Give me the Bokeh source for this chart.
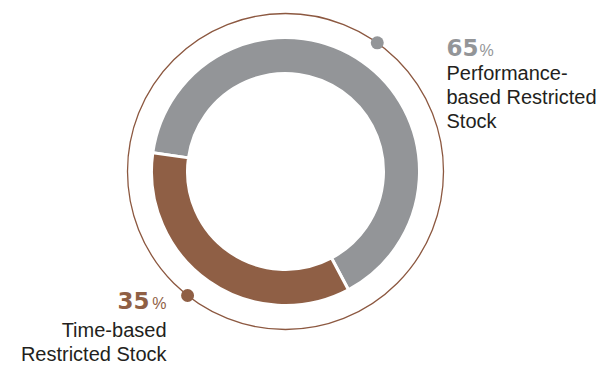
import numpy as np
from bokeh.plotting import figure
from bokeh.models import Range1d, ColumnDataSource
from bokeh.core.properties import value
from bokeh.embed import file_html
from bokeh.resources import INLINE

# ---- data ----
categories = ["Performance-based Restricted Stock", "Time-based Restricted Stock"]
shares = [65, 35]
label_lines = [["Performance-", "based Restricted", "Stock"], ["Time-based", "Restricted Stock"]]

# ---- style / layout ----
GRAY = "#939598"
BROWN = "#8F5F45"
RING_BROWN = "#8C5840"
TEXT = "#231F20"
seg_colors = [GRAY, BROWN]
W, H = 616, 365
cx, cy = 285, H - 171
r_in, r_out, r_ring = 98, 134, 158
start_deg = 172.0

p = figure(width=W, height=H, x_range=Range1d(0, W), y_range=Range1d(0, H),
           output_backend="svg", toolbar_location=None, min_border=0)
p.axis.visible = False
p.grid.visible = False
p.outline_line_color = None
p.background_fill_color = "white"

total = float(sum(shares))
spans = [v / total * 360.0 for v in shares]
b_start = start_deg
b_end = b_start + spans[1]
g_start = b_end
g_end = g_start + spans[0]
starts = [np.radians(g_start), np.radians(b_start)]
ends = [np.radians(g_end), np.radians(b_end)]

src = ColumnDataSource(dict(x=[cx, cx], y=[cy, cy], s=starts, e=ends, c=seg_colors))
p.annular_wedge(x="x", y="y", inner_radius=r_in, outer_radius=r_out,
                start_angle="s", end_angle="e", fill_color="c",
                line_color="white", line_width=3, source=src)

p.circle(x=[cx], y=[cy], radius=r_ring, fill_color=None,
         line_color=RING_BROWN, line_width=1.3)

mids = [(g_start + g_end) / 2 - 0.5, (b_start + b_end) / 2 - 3.3]
dx = [cx + r_ring * np.cos(np.radians(a)) for a in mids]
dy = [cy + r_ring * np.sin(np.radians(a)) for a in mids]
p.scatter(x=dx, y=dy, size=13, fill_color=seg_colors, line_color=None)

LAB = value("Liberation Sans")
NUM = value("DejaVu Sans")

# Performance (right side, left aligned)
p.text(x=[446], y=[H - 46.5], text=[f"{shares[0]}"], text_font=NUM,
       text_font_style="bold", text_font_size="23px", text_color=GRAY,
       text_align="left", text_baseline="middle")
p.text(x=[479], y=[H - 49.5], text=["%"], text_font=LAB,
       text_font_size="16px", text_color=GRAY, text_align="left", text_baseline="middle")
for i, line in enumerate(label_lines[0]):
    p.text(x=[446], y=[H - 72 - 24 * i], text=[line], text_font=LAB,
           text_font_size="20px", text_color=TEXT, text_align="left", text_baseline="middle")

# Time-based (left side, right aligned)
p.text(x=[149], y=[H - 300], text=[f"{shares[1]}"], text_font=NUM,
       text_font_style="bold", text_font_size="23px", text_color=BROWN,
       text_align="right", text_baseline="middle")
p.text(x=[166], y=[H - 303], text=["%"], text_font=LAB,
       text_font_size="16px", text_color=BROWN, text_align="right", text_baseline="middle")
for i, line in enumerate(label_lines[1]):
    p.text(x=[166], y=[H - 329 - 24 * i], text=[line], text_font=LAB,
           text_font_size="20px", text_color=TEXT, text_align="right", text_baseline="middle")

open("out.html", "w").write(file_html(p, INLINE))
